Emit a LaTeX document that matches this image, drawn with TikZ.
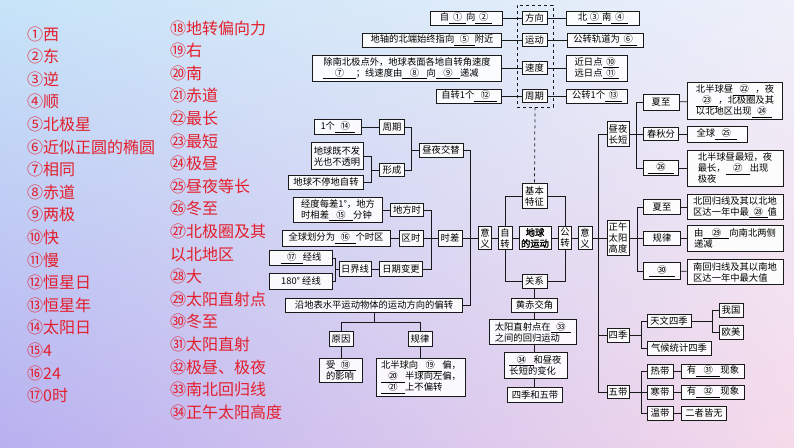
\documentclass[tikz,border=0pt]{standalone}
\usepackage{fontspec}
\setmainfont{Noto Sans CJK SC}[AutoFakeBold=2]
\usetikzlibrary{calc,shadings}
\definecolor{bgUL}{HTML}{C6E4F8}
\definecolor{bgUR}{HTML}{EEF0FA}
\definecolor{bgLL}{HTML}{B8B0F0}
\definecolor{bgLR}{HTML}{F6DAEA}
\definecolor{ansred}{HTML}{E41E2C}
\newcommand\bl[2][2.2em]{\underline{\makebox[#1]{#2}}}
\begin{document}
\begin{tikzpicture}[x=1pt,y=-1pt,
  bx/.style={draw=black!90,line width=0.9pt,fill=white,fill opacity=0.9,text opacity=1,
    inner sep=0.8pt,font=\fontsize{9.3}{11}\selectfont,align=left},
  ln/.style={draw=black!90,line width=0.75pt},
  ans/.style={anchor=west,text=ansred,inner sep=0pt,font=\fontsize{16}{18}\selectfont}]
\useasboundingbox (0,0) rectangle (794,447);
\shade[upper left=bgUL,upper right=bgUR,lower left=bgLL,lower right=bgLR] (0,0) rectangle (794,447);
% answer list
\foreach \t [count=\i from 0] in {①西,②东,③逆,④顺,⑤北极星,⑥近似正圆的椭圆,⑦相同,⑧赤道,⑨两极,⑩快,⑪慢,⑫恒星日,⑬恒星年,⑭太阳日,⑮4,⑯24,⑰0时}
  \node[ans] (la\i) at (27,{34+22.6*\i}) {\t};
\foreach \t [count=\i from 0] in {⑱地转偏向力,⑲右,⑳南,㉑赤道,㉒最长,㉓最短,㉔极昼,㉕昼夜等长,㉖冬至,㉗北极圈及其,以北地区,㉘大,㉙太阳直射点,㉚冬至,㉛太阳直射,㉜极昼、极夜,㉝南北回归线,㉞正午太阳高度}
  \node[ans] (lb\i) at (170,{28+22.6*\i}) {\t};
% top block
\node[draw=black!90,dashed,line width=0.9pt,minimum width=36,minimum height=102] (dsh) at (535,56) {};
\node[bx,minimum width=72,minimum height=14] (a1) at (466,18) {自\bl[1.8em]{①}向\bl[1.8em]{②}};
\node[bx,minimum width=25,minimum height=13] (fx) at (534.5,18) {方向};
\node[bx,minimum width=73,minimum height=14] (b1) at (603,18) {北\bl[1.6em]{③}南\bl[1.8em]{④}};
\node[bx,minimum width=139,minimum height=14] (a2) at (432,40) {地轴的北端始终指向\bl{⑤}附近};
\node[bx,minimum width=25,minimum height=13] (yd) at (534.5,40) {运动};
\node[bx,minimum width=76,minimum height=14] (b2) at (605,40) {公转轨道为\bl[1.8em]{⑥}};
\node[bx,minimum width=189,minimum height=26] (a3) at (407,68) {除南北极点外，地球表面各地自转角速度\\\bl[3.5em]{⑦}；线速度由\bl[2.6em]{⑧}向\bl[2.6em]{⑨}递减};
\node[bx,minimum width=25,minimum height=13] (sd) at (534.5,68) {速度};
\node[bx,minimum width=61,minimum height=26] (b3) at (597,68) {近日点\bl[1.8em]{⑩}\\远日点\bl[1.8em]{⑪}};
\node[bx,minimum width=65,minimum height=14] (a4) at (469,96) {自转1个\bl[2.4em]{⑫}};
\node[bx,minimum width=25,minimum height=13] (zq) at (534.5,96) {周期};
\node[bx,minimum width=61,minimum height=14] (b4) at (597,96) {公转1个\bl[1.8em]{⑬}};
\foreach \l/\m/\r in {a1/fx/b1,a2/yd/b2,a3/sd/b3,a4/zq/b4}{\draw[ln] (\l)--(\m); \draw[ln] (\m)--(\r);}
% center
\node[bx,minimum width=25,minimum height=25,align=center] (jb) at (534.5,196) {基本\\特征};
\node[bx,minimum width=13,minimum height=23,align=center] (yy1) at (485,238) {意\\义};
\node[bx,minimum width=14,minimum height=23,align=center] (zz) at (505,238) {自\\转};
\node[bx,minimum width=32,minimum height=23,align=center,font=\fontsize{9.3}{11}\selectfont\bfseries] (dq) at (535,238) {地球\\的运动};
\node[bx,minimum width=13,minimum height=23,align=center] (gz) at (565,238) {公\\转};
\node[bx,minimum width=14,minimum height=23,align=center] (yy2) at (585,238) {意\\义};
\node[bx,minimum width=25,minimum height=14] (gx) at (534.5,281) {关系};
\draw[ln,dashed] (dsh.south) -- (jb.north);
\draw[ln] (yy1)--(zz); \draw[ln] (zz)--(dq); \draw[ln] (dq)--(gz); \draw[ln] (gz)--(yy2);
\draw[ln] (zz.north) |- (jb.west); \draw[ln] (gz.north) |- (jb.east);
\draw[ln] (zz.south) |- (gx.west); \draw[ln] (gz.south) |- (gx.east);
% left: day-night
\node[bx,minimum width=47,minimum height=15] (c1) at (338,127) {1个\bl[2.2em]{⑭}};
\node[bx,minimum width=25,minimum height=15] (c2) at (392,127) {周期};
\node[bx,minimum width=52,minimum height=27] (c3) at (337,156) {地球既不发\\光也不透明};
\node[bx,minimum width=25,minimum height=13] (c4) at (392,170) {形成};
\node[bx,minimum width=75,minimum height=14] (c5) at (326,182) {地球不停地自转};
\node[bx,minimum width=44,minimum height=14] (c6) at (441,150) {昼夜交替};
\coordinate (j1) at (371,170); \coordinate (j2) at (411,150); \coordinate (j3) at (470,238);
\draw[ln] (c1)--(c2);
\draw[ln] (c3.east) -| (j1) -- (c4.west); \draw[ln] (c5.east) -| (j1);
\draw[ln] (c2.east) -| (j2) -- (c6.west); \draw[ln] (c4.east) -| (j2);
\draw[ln] (c6.east) -| (j3);
% time difference
\node[bx,minimum width=89,minimum height=25] (d1) at (338,210) {经度每差1°，地方\\时相差\bl[2.6em]{⑮}分钟};
\node[bx,minimum width=33,minimum height=13] (d2) at (407,210) {地方时};
\node[bx,minimum width=108,minimum height=16] (d3) at (336,238) {全球划分为\bl[2.2em]{⑯}个时区};
\node[bx,minimum width=24,minimum height=16] (d4) at (411,238) {区时};
\node[bx,minimum width=24,minimum height=16] (sc) at (450,238) {时差};
\node[bx,minimum width=63,minimum height=15] (d5) at (301,258) {\bl[2.4em]{⑰}经线};
\node[bx,minimum width=63,minimum height=16] (d6) at (301,281) {180°\ 经线};
\node[bx,minimum width=32,minimum height=15] (d7) at (355,269) {日界线};
\node[bx,minimum width=43,minimum height=15] (d8) at (401,269) {日期变更};
\coordinate (j4) at (431,238); \coordinate (j5) at (335.5,269);
\draw[ln] (d1)--(d2); \draw[ln] (d3)--(d4); \draw[ln] (d4)--(sc); \draw[ln] (d7)--(d8);
\draw[ln] (d2.east) -| (j4); \draw[ln] (d8.east) -| (j4);
\draw[ln] (d5.east) -| (j5) -- (d7.west); \draw[ln] (d6.east) -| (j5);
\draw[ln] (sc)--(yy1);
% deflection
\node[bx,minimum width=177,minimum height=14] (e1) at (374,305) {沿地表水平运动物体的运动方向的偏转};
\node[bx,minimum width=24,minimum height=15] (e2) at (341,339) {原因};
\node[bx,minimum width=24,minimum height=15] (e3) at (420,339) {规律};
\node[bx,minimum width=43,minimum height=24] (e4) at (341,370) {受\bl[2.2em]{⑱}\\的影响};
\node[bx,minimum width=89,minimum height=38] (e5) at (421,377) {北半球向\bl[2.6em]{⑲}偏，\\\bl[2.6em]{⑳}半球向左偏，\\\bl[2.6em]{㉑}上不偏转};
\coordinate (j6) at (374,322);
\draw[ln] (e1.east) -| (j3);
\draw[ln] (e1.south) -- (j6) -| (e2.north); \draw[ln] (j6) -| (e3.north);
\draw[ln] (e2)--(e4); \draw[ln] (e3.south)--(e3.south|-e5.north);
% relation column
\node[bx,minimum width=46,minimum height=14] (f1) at (534.5,305) {黄赤交角};
\node[bx,minimum width=87,minimum height=25] (f2) at (533,332) {太阳直射点在\bl[2.2em]{㉝}\\之间的回归运动};
\node[bx,minimum width=63,minimum height=26] (f3) at (535.5,365) {\bl[2.6em]{㉞}和昼夜\\长短的变化};
\node[bx,minimum width=55,minimum height=15] (f4) at (535,395) {四季和五带};
\draw[ln] (gx.south)--(f1.north);
\draw[ln] (f1.south)--(f1.south|-f2.north);
\draw[ln] (f1.south|-f2.south)--(f1.south|-f3.north);
\draw[ln] (f1.south|-f3.south)--(f1.south|-f4.north);
% right side
\node[bx,minimum width=22,minimum height=25,align=center] (g1) at (618,134) {昼夜\\长短};
\node[bx,minimum width=22,minimum height=35,align=center] (g2) at (618,238) {正午\\太阳\\高度};
\node[bx,minimum width=22,minimum height=14] (g3) at (618,335) {四季};
\node[bx,minimum width=22,minimum height=13] (g4) at (618,392) {五带};
\draw[ln] (yy2)--(g2);
\draw[ln] (g1.west) -- ++(-8,0) coordinate (jv) |- (g4.west);
\draw[ln] (g3.west) -- (g3.west-|jv);
\node[bx,minimum width=36,minimum height=16] (h1) at (661,102) {夏至};
\node[bx,minimum width=95,minimum height=37] (h2) at (735,101) {北半球昼\bl[2.4em]{㉒}，夜\\\bl[2.4em]{㉓}，北极圈及其\\以北地区出现\bl[2.2em]{㉔}};
\node[bx,minimum width=35,minimum height=13] (h3) at (661,134) {春秋分};
\node[bx,minimum width=60,minimum height=16] (h4) at (717,134) {全球\bl[2.4em]{㉕}};
\node[bx,minimum width=35,minimum height=15] (h5) at (661,168) {\bl[2.8em]{㉖}};
\node[bx,minimum width=96,minimum height=36] (h6) at (735,168) {北半球昼最短，夜\\最长，\bl[2.6em]{㉗}出现\\极夜};
\draw[ln] (g1)--(h3); \draw[ln] (h1)--(h2); \draw[ln] (h3)--(h4); \draw[ln] (h5)--(h6);
\draw[ln] (h1.west) -- ++(-6,0) |- (h5.west);
\node[bx,minimum width=37,minimum height=15] (h7) at (662,207) {夏至};
\node[bx,minimum width=96,minimum height=25] (h8) at (735,207) {北回归线及其以北地\\区达一年中最\bl[2em]{㉘}值};
\node[bx,minimum width=37,minimum height=14] (h9) at (662,238) {规律};
\node[bx,minimum width=96,minimum height=26] (h10) at (735,238) {由\bl[2.8em]{㉙}向南北两侧\\递减};
\node[bx,minimum width=37,minimum height=17] (h11) at (662,271) {\bl[2.8em]{㉚}};
\node[bx,minimum width=96,minimum height=25] (h12) at (735,272) {南回归线及其以南地\\区达一年中最大值};
\draw[ln] (g2)--(h9); \draw[ln] (h7)--(h8); \draw[ln] (h9)--(h10); \draw[ln] (h11)--(h12);
\draw[ln] (h7.west) -- ++(-6,0) |- (h11.west);
\node[bx,minimum width=44,minimum height=13] (k1) at (669,321) {天文四季};
\node[bx,minimum width=24,minimum height=14] (k2) at (731,310) {我国};
\node[bx,minimum width=24,minimum height=14] (k3) at (731,332) {欧美};
\node[bx,minimum width=64,minimum height=14] (k4) at (679,348) {气候统计四季};
\coordinate (j8) at (641,335); \coordinate (j9) at (712,321);
\draw[ln] (g3.east)--(j8); \draw[ln] (k1.west) -| (j8); \draw[ln] (k4.west) -| (j8);
\draw[ln] (k1.east)--(j9); \draw[ln] (k2.west) -| (j9); \draw[ln] (k3.west) -| (j9);
\node[bx,minimum width=26,minimum height=14] (m1) at (660,371) {热带};
\node[bx,minimum width=63,minimum height=14] (m2) at (713,371) {有\bl[2.6em]{㉛}现象};
\node[bx,minimum width=26,minimum height=14] (m3) at (660,392) {寒带};
\node[bx,minimum width=63,minimum height=14] (m4) at (713,392) {有\bl[2.6em]{㉜}现象};
\node[bx,minimum width=26,minimum height=14] (m5) at (660,413) {温带};
\node[bx,minimum width=45,minimum height=14] (m6) at (704,413) {二者皆无};
\coordinate (j10) at (641,392);
\draw[ln] (g4)--(m3); \draw[ln] (m1.west) -| (j10); \draw[ln] (m5.west) -| (j10);
\draw[ln] (m1)--(m2); \draw[ln] (m3)--(m4); \draw[ln] (m5)--(m6);
\end{tikzpicture}
\end{document}
